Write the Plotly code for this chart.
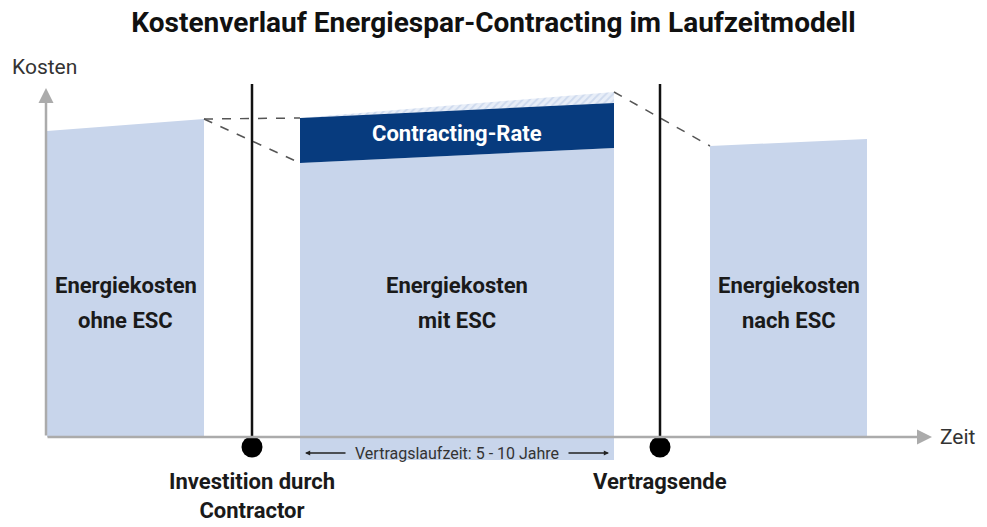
"""Schema: Kostenverlauf Energiespar-Contracting im Laufzeitmodell."""

from plotly import graph_objects as go

# Zeitphasen (Start, Ende) in schematischen Zeiteinheiten
phase_ohne = [0.1, 15.8]
phase_mit = [25.4, 56.8]
phase_nach = [66.4, 82.1]

# Kostenniveaus (Anfang, Ende der Phase)
kosten_ohne = [30.6, 31.8]
kosten_mit = [27.4, 28.9]
rate_oben = [31.9, 33.4]
rate_puffer = [31.9, 34.5]
kosten_nach = [29.1, 29.8]
mit_unten = -2.3

# Beschriftungen der Flächen (zwei Zeilen je Fläche)
flaechen_zeile1 = ["Energiekosten", "Energiekosten", "Energiekosten"]
flaechen_zeile2 = ["ohne ESC", "mit ESC", "nach ESC"]

# Ereignisse auf der Zeitachse
ereignisse_x = [20.6, 61.4]
ereignisse_text = ["Investition durch<br>Contractor", "Vertragsende"]
ereignis_hoehe = 35.3

achse_x_ende = 88.6
achse_y_ende = 34.9

HELL = "#c8d5eb"
DUNKEL = "#073b7e"
GRAU = "#ababab"
FONT = "Roboto"

fig = go.Figure()


def flaeche(x, unten, oben, farbe):
    fig.add_trace(go.Scatter(
        x=[x[0], x[1], x[1], x[0], x[0]],
        y=[unten, unten, oben[1], oben[0], unten],
        mode="lines", fill="toself", fillcolor=farbe,
        line=dict(width=0), hoverinfo="skip", showlegend=False))


flaeche(phase_ohne, 0, kosten_ohne, HELL)
flaeche(phase_mit, mit_unten, kosten_mit, HELL)
flaeche(phase_nach, 0, kosten_nach, HELL)

# schraffierter Puffer oberhalb der Contracting-Rate
fig.add_trace(go.Scatter(
    x=[phase_mit[0], phase_mit[1], phase_mit[1], phase_mit[0]],
    y=[rate_oben[0], rate_oben[1], rate_puffer[1], rate_puffer[0]],
    mode="lines", fill="toself", fillcolor="white",
    fillpattern=dict(shape="/", fgcolor="#b3c5e3", bgcolor="#e8eef8", size=5, solidity=0.35),
    line=dict(width=0), hoverinfo="skip", showlegend=False))

# Contracting-Rate
fig.add_trace(go.Scatter(
    x=[phase_mit[0], phase_mit[1], phase_mit[1], phase_mit[0], phase_mit[0]],
    y=[kosten_mit[0], kosten_mit[1], rate_oben[1], rate_oben[0], kosten_mit[0]],
    mode="lines", fill="toself", fillcolor=DUNKEL,
    line=dict(width=0), hoverinfo="skip", showlegend=False))

# gestrichelte Verbindungslinien
verbindungen = [
    ([phase_ohne[1], phase_mit[0]], [kosten_ohne[1], rate_oben[0]]),
    ([phase_ohne[1], phase_mit[0]], [kosten_ohne[1], kosten_mit[0]]),
    ([phase_mit[1], phase_nach[0]], [rate_puffer[1], kosten_nach[0]]),
]
for vx, vy in verbindungen:
    fig.add_trace(go.Scatter(
        x=vx, y=vy, mode="lines",
        line=dict(color="#555555", width=1.5, dash="dash"),
        hoverinfo="skip", showlegend=False))

# Achsen als Pfeile
fig.add_annotation(x=achse_x_ende, y=0, ax=0, ay=0, xref="x", yref="y",
                   axref="x", ayref="y", showarrow=True, arrowhead=2,
                   arrowsize=1.2, arrowwidth=2.5, arrowcolor=GRAU, text="")
fig.add_annotation(x=0, y=achse_y_ende, ax=0, ay=0, xref="x", yref="y",
                   axref="x", ayref="y", showarrow=True, arrowhead=2,
                   arrowsize=1.2, arrowwidth=2.5, arrowcolor=GRAU, text="")

# Ereignislinien und Punkte
for ex in ereignisse_x:
    fig.add_trace(go.Scatter(
        x=[ex, ex], y=[0, ereignis_hoehe], mode="lines",
        line=dict(color="#111111", width=2.5),
        hoverinfo="skip", showlegend=False))
fig.add_trace(go.Scatter(
    x=ereignisse_x, y=[-1.0] * len(ereignisse_x), mode="markers",
    marker=dict(color="#000000", size=21),
    hoverinfo="skip", showlegend=False))

for ex, txt in zip(ereignisse_x, ereignisse_text):
    fig.add_annotation(x=ex, y=-3.0, text=f"<b>{txt}</b>", showarrow=False,
                       yanchor="top", font=dict(size=22, color="#1a1a1a", family=FONT))

# Vertragslaufzeit-Pfeil
fig.add_annotation(x=(phase_mit[0] + phase_mit[1]) / 2, y=-1.6,
                   text="Vertragslaufzeit: 5 - 10 Jahre", showarrow=False,
                   font=dict(size=16, color="#333333", family=FONT))
links = phase_mit[0] + 0.5
rechts = phase_mit[1] - 0.5
fig.add_annotation(x=links, y=-1.6, ax=links + 4.2, ay=-1.6, xref="x", yref="y",
                   axref="x", ayref="y", showarrow=True, arrowhead=2,
                   arrowsize=0.8, arrowwidth=1.3, arrowcolor="#222222", text="")
fig.add_annotation(x=rechts, y=-1.6, ax=rechts - 4.2, ay=-1.6, xref="x", yref="y",
                   axref="x", ayref="y", showarrow=True, arrowhead=2,
                   arrowsize=0.8, arrowwidth=1.3, arrowcolor="#222222", text="")

# Flächenbeschriftungen
for ph, z1, z2 in zip([phase_ohne, phase_mit, phase_nach], flaechen_zeile1, flaechen_zeile2):
    mitte = (ph[0] + ph[1]) / 2
    fig.add_annotation(x=mitte, y=15.2, text=f"<b>{z1}</b>", showarrow=False,
                       font=dict(size=22, color="#1a1a1a", family=FONT))
    fig.add_annotation(x=mitte, y=11.7, text=f"<b>{z2}</b>", showarrow=False,
                       font=dict(size=22, color="#1a1a1a", family=FONT))

fig.add_annotation(x=(phase_mit[0] + phase_mit[1]) / 2,
                   y=(sum(kosten_mit) + sum(rate_oben)) / 4,
                   text="<b>Contracting-Rate</b>", showarrow=False,
                   font=dict(size=22, color="white", family=FONT))

# Achsenbeschriftungen
fig.add_annotation(x=-3.6, y=37.0, text="Kosten", showarrow=False, xanchor="left",
                   font=dict(size=21, color="#333333", family=FONT))
fig.add_annotation(x=89.2, y=0, text="Zeit", showarrow=False, xanchor="left",
                   font=dict(size=21, color="#333333", family=FONT))

fig.update_layout(
    width=987, height=527,
    margin=dict(l=0, r=0, t=0, b=0),
    paper_bgcolor="white", plot_bgcolor="white",
    title=dict(text="<b>Kostenverlauf Energiespar-Contracting im Laufzeitmodell</b>",
               x=0.5, xanchor="center", y=0.958, yanchor="middle",
               font=dict(size=28, color="#111111", family=FONT)),
    xaxis=dict(range=[-4.6, 94.1], visible=False, fixedrange=True),
    yaxis=dict(range=[-9.0, 43.7], visible=False, fixedrange=True),
)

fig.write_html("out.html", config={"displayModeBar": False})

# Seitenrand des Browsers entfernen, damit die Grafik bündig sitzt
with open("out.html", "r") as file:
    html_content = file.read()
html_content = html_content.replace(
    "<head>", "<head><style>body { margin: 0; overflow: hidden; }</style>", 1)
with open("out.html", "w") as file:
    file.write(html_content)
